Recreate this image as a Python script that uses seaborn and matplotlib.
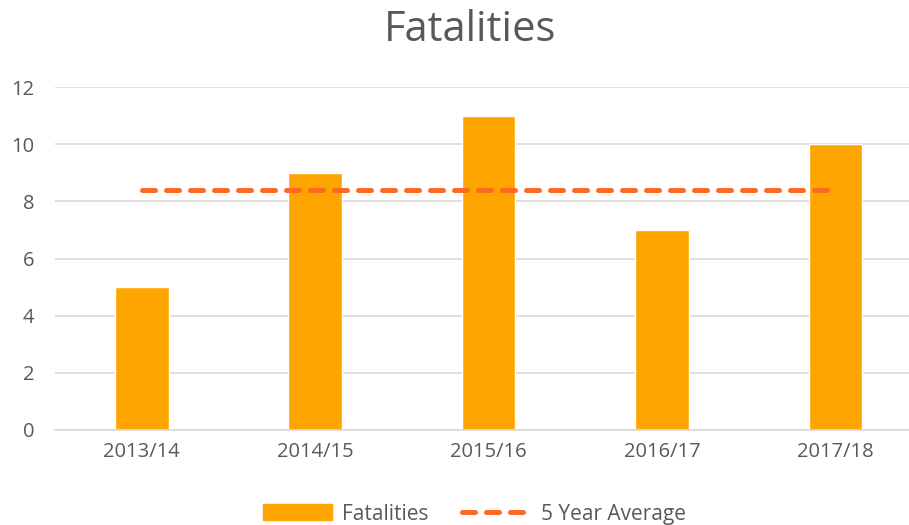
import matplotlib
matplotlib.use("Agg")
import matplotlib.pyplot as plt
import seaborn as sns
from matplotlib.lines import Line2D
from matplotlib.patches import Patch

years = ["2013/14", "2014/15", "2015/16", "2016/17", "2017/18"]
fatalities = [5, 9, 11, 7, 10]
five_year_avg = [8.4, 8.4, 8.4, 8.4, 8.4]

bar_color = "#FFA500"
line_color = "#FF6A21"
text_color = "#595959"
dash = (0, (2.6, 2.2))

sns.set_theme(style="white")
plt.rcParams["font.family"] = ["Open Sans", "DejaVu Sans"]

fig = plt.figure(figsize=(9.09, 5.25), dpi=100)
# plot area runs past the right edge, like the original
ax = fig.add_axes([0.0605, 0.181, 0.954, 0.653])

sns.barplot(x=years, y=fatalities, color=bar_color, width=0.31, saturation=1, ax=ax, zorder=2)
sns.lineplot(x=years, y=five_year_avg, color=line_color, lw=3.6, ax=ax, zorder=3,
             dashes=False, sort=False)
ax.lines[-1].set_linestyle(dash)
ax.lines[-1].set_dash_capstyle("round")

ax.set_ylim(0, 12)
ax.set_yticks(range(0, 13, 2))
ax.set_xlim(-0.5, 4.5)
ax.grid(axis="y", color="#D9D9D9", lw=1.2, zorder=0)
ax.set_axisbelow(True)
for s in ["top", "right", "left"]:
    ax.spines[s].set_visible(False)
ax.spines["bottom"].set_color("#D9D9D9")
ax.spines["bottom"].set_linewidth(1.2)
ax.tick_params(axis="both", length=0, labelsize=14.5, colors=text_color)
ax.tick_params(axis="x", pad=9)
ax.tick_params(axis="y", pad=15)
ax.set_xlabel("")
ax.set_ylabel("")

fig.suptitle("Fatalities", fontsize=30, color=text_color, x=0.517, y=0.982)

handles = [Patch(color=bar_color),
           Line2D([0], [0], color=line_color, lw=3.6, linestyle=dash,
                  dash_capstyle="round")]
fig.legend(handles, ["Fatalities", "5 Year Average"], loc="lower center",
           bbox_to_anchor=(0.522, -0.035), ncol=2, frameon=False, fontsize=15,
           labelcolor=text_color, handlelength=3.3, handletextpad=0.5,
           columnspacing=1.6, handleheight=0.8)

fig.savefig("out.png", dpi=100)
